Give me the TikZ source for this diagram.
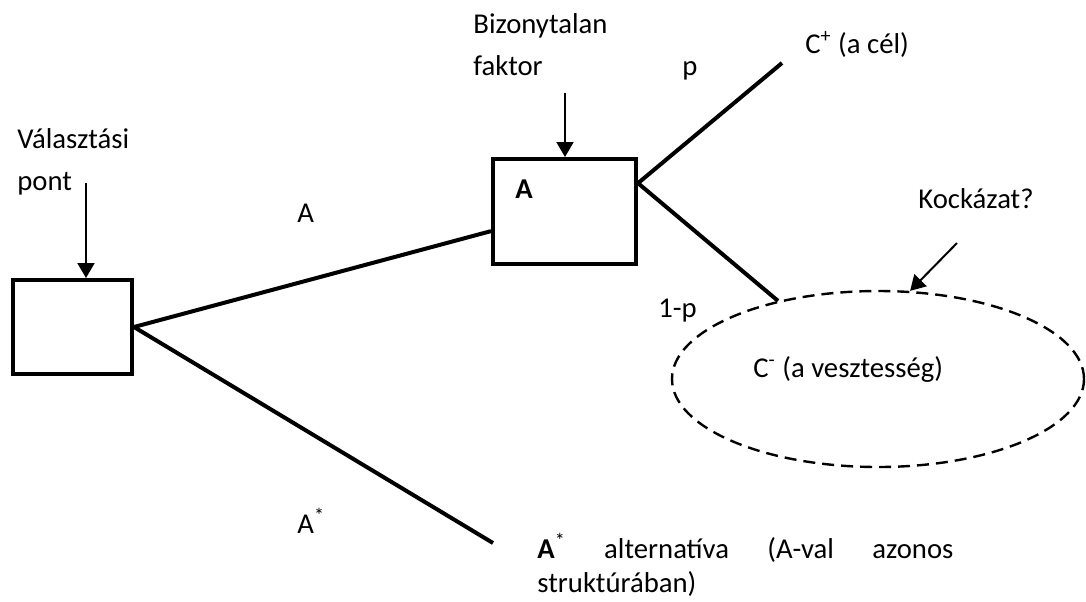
\documentclass[tikz,border=0pt]{standalone}
\usepackage{fontspec}
\setmainfont{Carlito}
\usetikzlibrary{arrows.meta,calc,positioning,shapes.geometric}

\tikzset{
  stage/.style={draw, line width=2pt, inner sep=0pt},
  branch/.style={line width=2pt},
  pointer/.style={line width=1pt, -{Triangle[length=7.5pt, width=8.5pt]}},
  lossring/.style={ellipse, draw, line width=1.2pt, dash pattern=on 6pt off 3.5pt,
    minimum width=206pt, minimum height=88pt, inner sep=0pt},
  caption/.style={font=\fontsize{14.35}{21}\selectfont, inner sep=0pt, anchor=base west},
  blurb/.style={font=\fontsize{14.35}{17}\selectfont, inner sep=0pt, anchor=base west,
    text width=208pt, align=justify}
}

\begin{document}
\begin{tikzpicture}[x=0.5pt,y=-0.5pt]
\useasboundingbox (0,0) rectangle (1086,601);

% decision box and the uncertain node
\node[stage, minimum width=59.5pt, minimum height=47pt] (choice) at (72.5,327) {};
\node[stage, minimum width=71.5pt, minimum height=52.5pt] (boxA) at (564.5,211.5) {};
\node[caption, font=\fontsize{14.35}{21}\selectfont\bfseries] (boxAname) at (515,198) {A};
\node[lossring] (loss) at (878,379) {};

% texts
\node[caption, text width=70pt, align=left] (choicetxt) at (17,148) {Választási\\pont};
\node[caption, text width=80pt, align=left] (factortxt) at (473,33) {Bizonytalan\\faktor};
\node[caption] (ptxt) at (682,75) {p};
\node[caption] (qtxt) at (658,317) {1-p};
\node[caption] (atxt) at (297,222) {A};
\node[caption] (astartxt) at (297,533) {A\textsuperscript{*}};
\node[caption] (goaltxt) at (805,53) {C\textsuperscript{+} (a cél)};
\node[caption] (losstxt) at (753,377) {C\textsuperscript{-} (a vesztesség)};
\node[caption] (risktxt) at (918,208) {Kockázat?};
\node[blurb] (alttxt) at (537,558)
  {\textbf{A}\textsuperscript{*} alternatíva (A-val azonos\linebreak struktúrában)};

% branches
\coordinate (join) at ($(boxA.north west)!0.68!(boxA.south west)$);
\coordinate (fork) at ($(boxA.north east)!0.24!(boxA.south east)$);
\coordinate (goal) at (782,63);
\coordinate (altend) at (493,543);
\draw[branch] (choice.east) -- (join);
\draw[branch] (choice.east) -- (altend);
\draw[branch] (fork) -- (goal);
\draw[branch] (fork) -- (loss.142);

% pointers
\coordinate (choicecue) at (86,183);
\coordinate (factorcue) at (565,93);
\coordinate (riskcue) at (957,243);
\draw[pointer] (choicecue) -- (choicecue |- choice.north);
\draw[pointer] (factorcue) -- (factorcue |- boxA.north);
\draw[pointer] (riskcue) -- (loss.70);
\end{tikzpicture}
\end{document}
